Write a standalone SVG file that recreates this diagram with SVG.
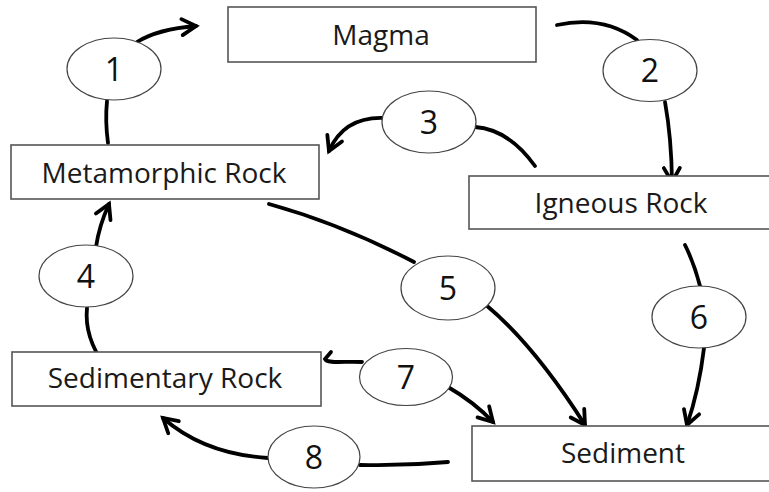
<svg xmlns="http://www.w3.org/2000/svg" width="769" height="492" viewBox="0 0 769 492">
<defs>
<style>
.box{fill:#fff;stroke:#555;stroke-width:1.6}
.oval{fill:#fff;stroke:#444;stroke-width:1.2}
.lbl{font-family:"Open Sans","DejaVu Sans",sans-serif;font-size:28px;fill:#1a1a1a;text-anchor:middle}
.num{font-family:"Open Sans","DejaVu Sans",sans-serif;font-size:32px;fill:#111;text-anchor:middle}
.con{fill:none;stroke:#000;stroke-width:3.8;stroke-linecap:round}
.arr{marker-end:url(#ah)}
</style>
<marker id="ah" markerUnits="userSpaceOnUse" markerWidth="20" markerHeight="20" refX="0" refY="0" orient="auto" overflow="visible">
<path d="M-14,-8 L0,0 L-14,8" fill="none" stroke="#000" stroke-width="3.8" stroke-linecap="round" stroke-linejoin="miter"/>
</marker>
</defs>
<rect width="769" height="492" fill="#fff"/>
<g id="connectors">
<path class="con" d="M108,143 Q105,121 107,101"/>
<path class="con arr" d="M137,42 Q158,29 196,26"/>
<path class="con" d="M557,25 Q603,15 637,40"/>
<path class="con arr" d="M665,102 Q671.5,138 672,182"/>
<path class="con" d="M535,166 Q509,129.5 475,127"/>
<path class="con arr" d="M383,118 Q344,117 329,151"/>
<path class="con" d="M105,366 Q84,337 87,308"/>
<path class="con arr" d="M96,247 Q99,226 109,204"/>
<path class="con" d="M269,204 Q341,224 414,262"/>
<path class="con arr" d="M486,305 Q534,345 585,425"/>
<path class="con" d="M685,245 Q694,263 700,286"/>
<path class="con arr" d="M704,348 Q699,390 687,425"/>
<path class="con" d="M362,362 C345,361 327,364 325,359 L331,352"/>
<path class="con arr" d="M448,387 Q474,402 493,422"/>
<path class="con" d="M448,462 Q404,466 360,465"/>
<path class="con arr" d="M268,458 Q204,454 163,418"/>
</g>
<g id="magma"><rect class="box" x="228" y="7" width="308" height="55"/><text class="lbl" x="381" y="45">Magma</text></g>
<g id="metamorphic"><rect class="box" x="11" y="145" width="308" height="54"/><text class="lbl" x="164" y="183">Metamorphic Rock</text></g>
<g id="igneous"><rect class="box" x="469" y="176" width="310" height="53"/><text class="lbl" x="621" y="213">Igneous Rock</text></g>
<g id="sedimentary"><rect class="box" x="12" y="352" width="309" height="54"/><text class="lbl" x="165" y="388">Sedimentary Rock</text></g>
<g id="sediment"><rect class="box" x="472" y="426" width="310" height="55"/><text class="lbl" x="623" y="463">Sediment</text></g>
<g id="step1"><ellipse class="oval" cx="114" cy="69" rx="47" ry="31"/><text class="num" x="114" y="81">1</text></g>
<g id="step2"><ellipse class="oval" cx="650" cy="70.5" rx="47" ry="31"/><text class="num" x="650" y="82">2</text></g>
<g id="step3"><ellipse class="oval" cx="429" cy="122" rx="47" ry="31"/><text class="num" x="429" y="134">3</text></g>
<g id="step4"><ellipse class="oval" cx="86" cy="276" rx="47" ry="31"/><text class="num" x="86" y="288">4</text></g>
<g id="step5"><ellipse class="oval" cx="448" cy="288" rx="47" ry="32"/><text class="num" x="448" y="300">5</text></g>
<g id="step6"><ellipse class="oval" cx="699" cy="317" rx="47" ry="31"/><text class="num" x="699" y="329">6</text></g>
<g id="step7"><ellipse class="oval" cx="406" cy="377" rx="46.5" ry="28.5"/><text class="num" x="406" y="389">7</text></g>
<g id="step8"><ellipse class="oval" cx="314" cy="457" rx="46" ry="31"/><text class="num" x="314" y="469">8</text></g>
</svg>
